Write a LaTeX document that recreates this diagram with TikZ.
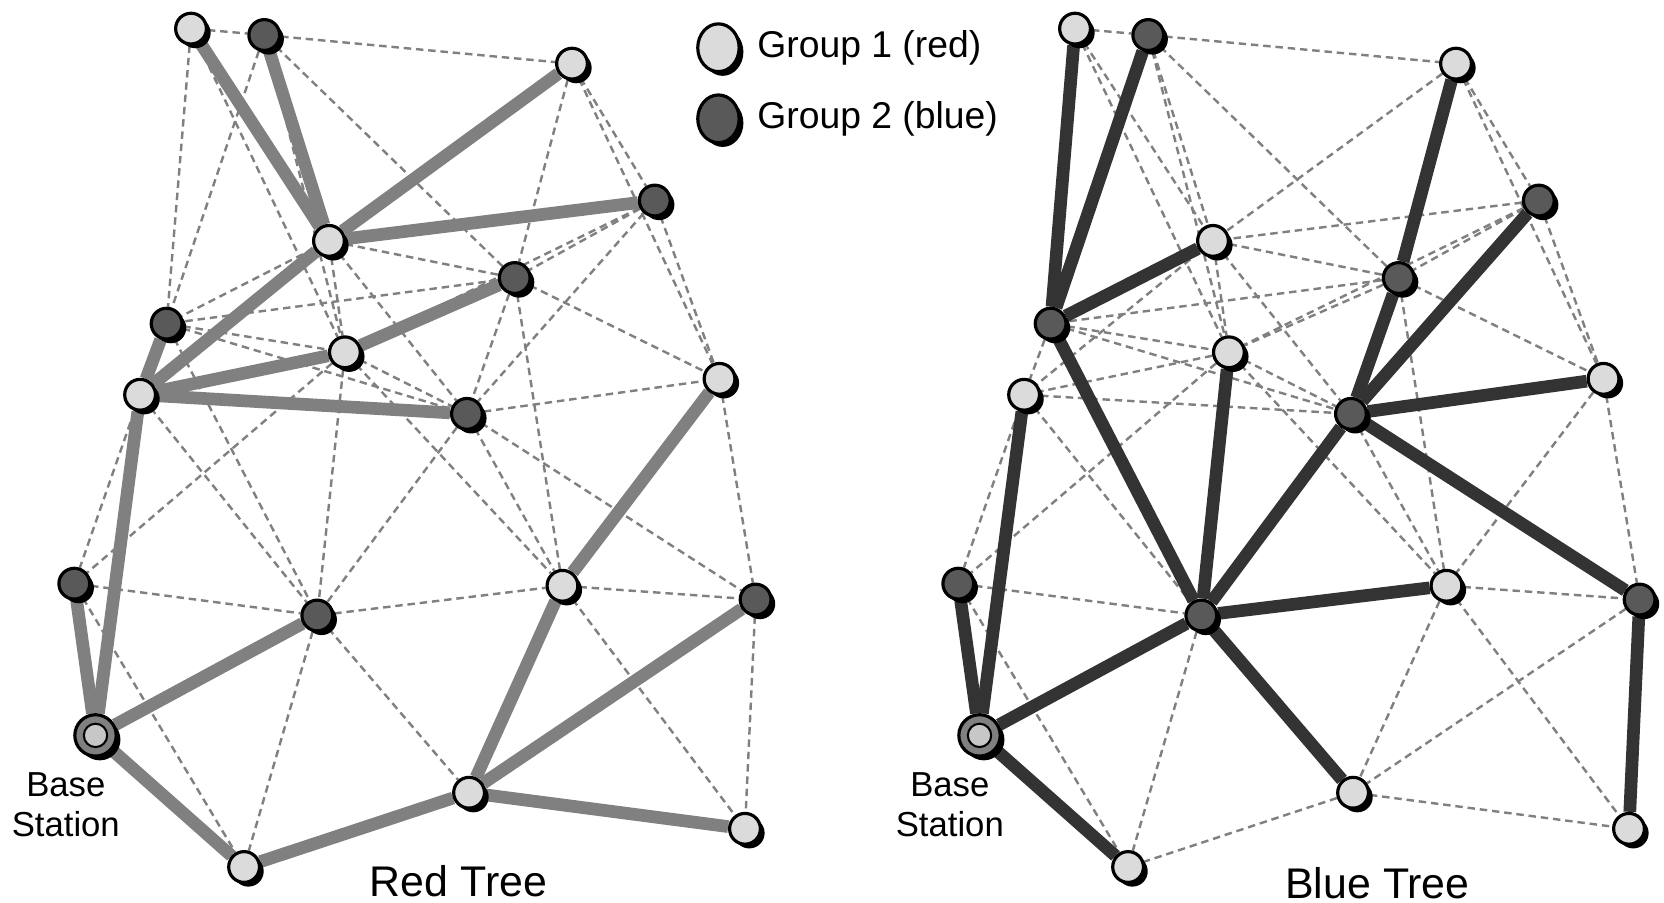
\documentclass[tikz,border=0pt]{standalone}
\usepackage{fontspec}
\setmainfont{Liberation Sans}
\usetikzlibrary{positioning,shadows,shapes.geometric,backgrounds}

\tikzset{
  lite/.style={circle,draw=black,line width=0.85pt,fill=black!14,minimum size=2.9mm,inner sep=0pt,
    drop shadow={shadow xshift=0.4mm,shadow yshift=-0.4mm,fill=black,opacity=1}},
  dark/.style={lite,fill=black!65},
  base/.style={lite,fill=black!50,minimum size=3.9mm,
    path picture={\draw[fill=black!22,line width=0.55pt] (path picture bounding box.center) circle (1.1mm);}},
  link/.style={draw=black!50,line width=0.65pt,dash pattern=on 2pt off 1.3pt},
  redtree/.style={draw=black!50,line width=3.4pt},
  bluetree/.style={draw=black!80,line width=3.4pt},
  label/.style={inner sep=0pt,font=\fontsize{9.3}{10.8}\selectfont},
}

% the sensor field, same for both trees
\newcommand{\sensornet}[1]{%
  \node[lite] (#1-1) at (1.80,8.23) {};
  \node[dark] (#1-2) at (2.49,8.17) {};
  \node[lite] (#1-3) at (5.39,7.90) {};
  \node[dark] (#1-4) at (6.17,6.61) {};
  \node[lite] (#1-5) at (3.10,6.23) {};
  \node[dark] (#1-6) at (4.85,5.88) {};
  \node[dark] (#1-7) at (1.57,5.45) {};
  \node[lite] (#1-8) at (3.25,5.18) {};
  \node[lite] (#1-9) at (1.32,4.78) {};
  \node[dark] (#1-10) at (4.40,4.60) {};
  \node[lite] (#1-11) at (6.78,4.93) {};
  \node[dark] (#1-12) at (0.70,3.00) {};
  \node[dark] (#1-13) at (2.99,2.70) {};
  \node[lite] (#1-14) at (5.30,2.98) {};
  \node[dark] (#1-15) at (7.12,2.85) {};
  \node[lite] (#1-16) at (4.42,1.03) {};
  \node[lite] (#1-17) at (2.30,0.33) {};
  \node[lite] (#1-18) at (7.02,0.69) {};
  \node[base] (#1-bs) at (0.90,1.57) {};
}

\newcommand{\netlinks}{1/2,1/5,1/7,1/8,2/3,2/5,2/6,2/7,2/8,3/4,3/5,3/6,3/11,
  4/5,4/6,4/8,4/10,4/11,5/6,5/7,5/8,5/9,5/10,6/7,6/8,6/10,6/11,6/14,
  7/8,7/9,7/10,7/13,8/9,8/10,8/12,8/13,8/14,9/10,9/12,9/13,9/bs,
  10/11,10/13,10/14,10/15,11/14,11/15,12/13,12/bs,12/17,13/14,13/16,
  13/17,13/bs,14/15,14/16,14/18,15/16,15/18,16/17,16/18,17/bs}
\newcommand{\redlinks}{1/5,2/5,3/5,4/5,5/9,7/9,8/9,6/8,9/10,9/bs,12/bs,
  13/bs,17/bs,16/17,14/16,15/16,16/18,11/14}
\newcommand{\bluelinks}{1/7,2/7,5/7,7/13,9/bs,12/bs,13/bs,17/bs,8/13,
  10/13,13/14,13/16,3/6,6/10,4/10,10/11,10/15,15/18}

\begin{document}
\begin{tikzpicture}
\useasboundingbox (0,0) rectangle (15.68,8.50);

\sensornet{r}
\begin{scope}[xshift=8.33cm]
\sensornet{b}
\end{scope}

\begin{pgfonlayer}{background}
\foreach \a/\b in \netlinks {
  \draw[link] (r-\a) -- (r-\b);
  \draw[link] (b-\a) -- (b-\b);
}
\foreach \a/\b in \redlinks
  \draw[redtree] (r-\a) -- (r-\b);
\foreach \a/\b in \bluelinks
  \draw[bluetree] (b-\a) -- (b-\b);
\end{pgfonlayer}

% legend
\node[lite,ellipse,minimum width=3.9mm,minimum height=4.5mm] (key1) at (6.77,8.05) {};
\node[dark,ellipse,minimum width=3.9mm,minimum height=4.5mm] (key2) at (6.77,7.38) {};
\node[label,font=\fontsize{10}{12}\selectfont,right=1.5mm of key1] (key1txt) {Group 1 (red)};
\node[label,font=\fontsize{10}{12}\selectfont,right=1.5mm of key2] (key2txt) {Group 2 (blue)};

% captions
\node[label,align=center] (rbase) at (0.62,0.92) {Base\\Station};
\node[label,align=center] (bbase) at (8.95,0.92) {Base\\Station};
\node[label,font=\fontsize{11.5}{13}\selectfont] (rtitle) at (4.32,0.20) {Red Tree};
\node[label,font=\fontsize{11.5}{13}\selectfont] (btitle) at (12.98,0.18) {Blue Tree};
\end{tikzpicture}
\end{document}
